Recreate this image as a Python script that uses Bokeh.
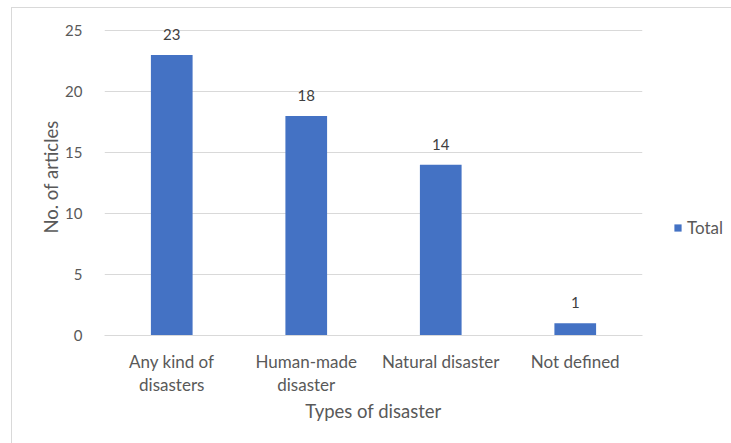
from bokeh.plotting import figure
from bokeh.models import (ColumnDataSource, FactorRange, Range1d, FixedTicker,
                          Legend, LegendItem)
from bokeh.core.properties import value
from bokeh.embed import file_html
from bokeh.resources import INLINE

# Articles per type of disaster (category names wrap onto two lines)
categories = ["Any kind of\ndisasters", "Human-made\ndisaster", "Natural disaster", "Not defined"]
totals = [23, 18, 14, 1]
y_ticks = [0, 5, 10, 15, 20, 25]

FONT = "Lato"
BAR = "#4472C4"
GREY_TEXT = "#595959"
GRID = "#D9D9D9"

source = ColumnDataSource(dict(cat=categories, total=totals,
                               label=[str(v) for v in totals]))

p = figure(x_range=FactorRange(*categories), y_range=Range1d(0, 26),
           frame_width=538, frame_height=317,
           output_backend="svg", toolbar_location=None,
           min_border_left=92, min_border_right=90, min_border_top=10,
           min_border_bottom=109, margin=(7, 0, 0, 11))
p.styles = {"border-top": "1px solid #D9D9D9", "border-left": "1px solid #D9D9D9"}
p.outline_line_color = None
p.background_fill_color = "white"
p.border_fill_color = "white"

bars = p.vbar(x="cat", top="total", width=0.31, source=source,
              fill_color=BAR, line_color=None)

p.text(x="cat", y="total", text="label", source=source,
       text_align="center", text_baseline="bottom", y_offset=-15,
       text_font=value(FONT), text_font_size="15px", text_color="#404040")

# Axes
p.xgrid.grid_line_color = None
p.ygrid.grid_line_color = GRID
p.ygrid.grid_line_width = 1

p.yaxis.ticker = FixedTicker(ticks=y_ticks)
p.yaxis.axis_line_color = None
p.yaxis.major_tick_line_color = None
p.yaxis.minor_tick_line_color = None
p.yaxis.major_label_standoff = 16
p.yaxis.major_label_text_font_size = "15px"
p.yaxis.axis_label = "No. of articles"
p.yaxis.axis_label_standoff = 0

p.xaxis.axis_line_color = GRID
p.xaxis.major_tick_line_color = None
p.xaxis.minor_tick_line_color = None
p.xaxis.major_label_standoff = 9
p.xaxis.major_label_text_font_size = "17px"
p.xaxis.major_label_text_line_height = 1.1
p.xaxis.axis_label = "Types of disaster"
p.xaxis.axis_label_standoff = 2

for ax in (p.xaxis[0], p.yaxis[0]):
    ax.major_label_text_font = FONT
    ax.major_label_text_color = GREY_TEXT
    ax.axis_label_text_font = FONT
    ax.axis_label_text_font_size = "18.5px"
    ax.axis_label_text_font_style = "normal"
    ax.axis_label_text_color = GREY_TEXT

legend = Legend(items=[LegendItem(label="Total", renderers=[bars])],
                location=(31, 97), margin=0, padding=0, spacing=0,
                glyph_width=9, glyph_height=9, label_standoff=5,
                label_text_font=FONT, label_text_font_size="17px",
                label_text_color=GREY_TEXT,
                border_line_color=None, background_fill_alpha=0)
p.add_layout(legend, "right")

open("out.html", "w").write(file_html(p, INLINE))
